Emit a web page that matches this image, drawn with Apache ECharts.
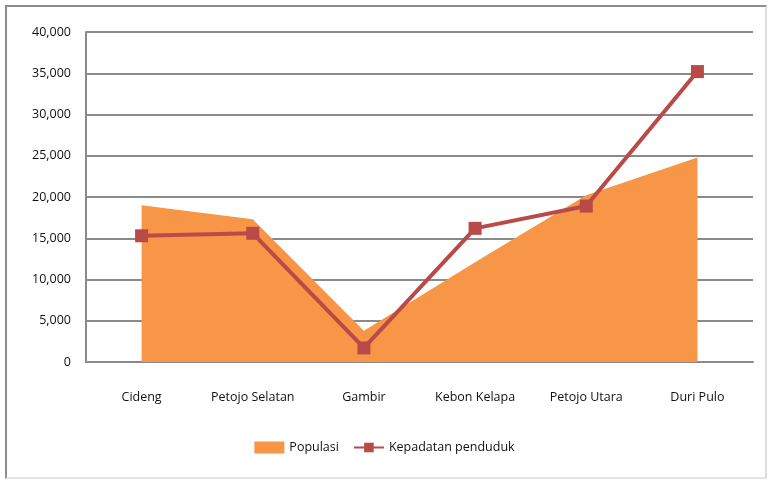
<!DOCTYPE html>
<html>
<head>
<meta charset="utf-8">
<script src="https://cdn.jsdelivr.net/npm/echarts@6/dist/echarts.min.js"></script>
<style>
  html, body { margin: 0; padding: 0; background: #fff; }
  #frame { position: absolute; left: 5px; top: 5px; width: 762px; height: 474px; border: 2px solid #8c8c8c; border-right-color: #dedede; border-bottom-color: #e4e4e4; box-sizing: border-box; }
  #chart { position: absolute; left: 0; top: 0; width: 769px; height: 481px; }
</style>
</head>
<body>
<div id="frame"></div>
<div id="chart"></div>
<script>
// kelurahan names and values
const kelurahan = ['Cideng', 'Petojo Selatan', 'Gambir', 'Kebon Kelapa', 'Petojo Utara', 'Duri Pulo'];
const populasi = [19000, 17300, 3800, 12100, 20200, 24800];
const kepadatan = [15300, 15600, 1700, 16200, 18900, 35200];
const yTicks = [0, 5000, 10000, 15000, 20000, 25000, 30000, 35000, 40000];

const myChart = echarts.init(document.getElementById('chart'));

const fontFamily = 'Open Sans, Noto Sans, sans-serif';

const option = {
  animation: false,
  grid: { left: 86, right: 16, top: 32, bottom: 119 },
  legend: {
    bottom: 22,
    left: 'center',
    itemGap: 14,
    textStyle: { fontFamily, fontSize: 12.5, color: '#111' },
    data: [
      { name: 'Populasi', icon: 'rect', itemStyle: { color: '#F79646' } },
      { name: 'Kepadatan penduduk' }
    ],
    itemWidth: 30,
    itemHeight: 12
  },
  xAxis: {
    type: 'category',
    data: kelurahan,
    boundaryGap: true,
    axisLine: { show: true, lineStyle: { color: '#8a8a8a', width: 2 } },
    axisTick: { show: false },
    axisLabel: { fontFamily, fontSize: 12.5, color: '#111', margin: 29, interval: 0 }
  },
  yAxis: {
    type: 'value',
    min: yTicks[0],
    max: yTicks[yTicks.length - 1],
    interval: 5000,
    axisLine: { show: true, lineStyle: { color: '#8a8a8a', width: 2 } },
    axisTick: { show: false },
    splitLine: { lineStyle: { color: '#8a8a8a', width: 2 } },
    axisLabel: {
      fontFamily, fontSize: 12.5, color: '#111', margin: 15,
      formatter: v => v.toLocaleString('en-US')
    }
  },
  series: [
    {
      name: 'Populasi',
      type: 'line',
      data: populasi,
      symbol: 'none',
      lineStyle: { width: 0 },
      itemStyle: { color: '#F79646' },
      areaStyle: { color: '#F79646', opacity: 1 },
      z: 1
    },
    {
      name: 'Kepadatan penduduk',
      type: 'line',
      data: kepadatan,
      symbol: 'rect',
      symbolSize: 13,
      lineStyle: { color: '#B94A48', width: 4 },
      itemStyle: { color: '#B94A48' },
      z: 3
    }
  ]
};

myChart.setOption(option);
</script>
</body>
</html>
